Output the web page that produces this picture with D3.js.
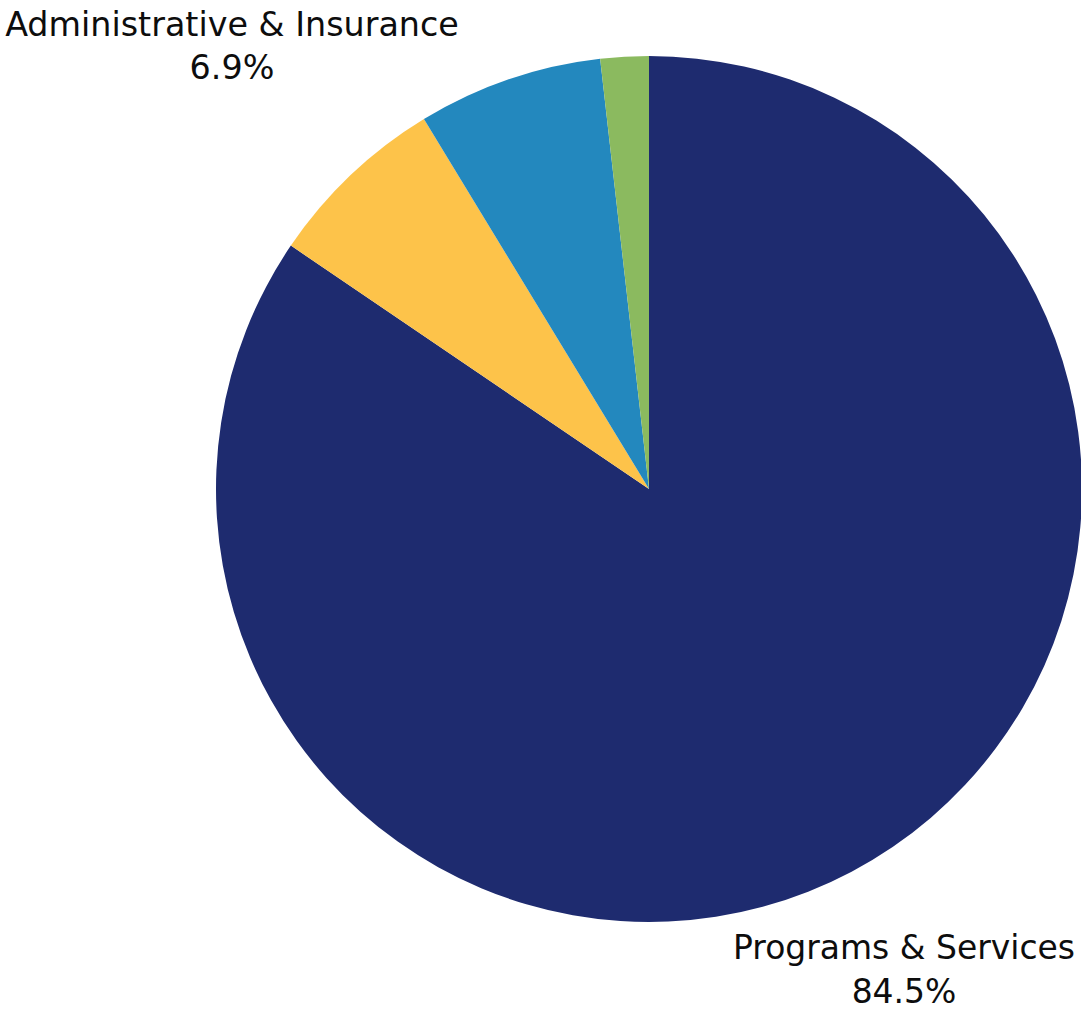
<!DOCTYPE html>
<html><head><meta charset="utf-8">
<script src="https://cdn.jsdelivr.net/npm/d3@7"></script>
<style>html,body{margin:0;padding:0;background:#fff;}svg{display:block;}</style>
</head><body>
<svg id="chart" width="1081" height="1012"></svg>
<script>
const categories = ["Programs & Services", "Fundraising", "Administrative & Insurance", "Other"];
const values = [84.5, 6.8, 6.9, 1.8];
const colors = ["#1e2b6f", "#fdc34a", "#2388be", "#8bba5f"];
const shownLabels = ["Programs & Services", "Administrative & Insurance"];

const svg = d3.select("#chart");
const cx = 649, cy = 489, r = 433;
const pie = d3.pie().sort(null).value(d => d.v);
const data = categories.map((c, i) => ({c, v: values[i], col: colors[i]}));
const arcs = pie(data);
const arc = d3.arc().innerRadius(0).outerRadius(r);
const g = svg.append("g").attr("transform", `translate(${cx},${cy})`);
g.selectAll("path").data(arcs).join("path")
  .attr("d", arc).attr("fill", d => d.data.col);

const labelPos = {
  "Programs & Services": {x: 904, y1: 959, y2: 1003, w: 342},
  "Administrative & Insurance": {x: 232, y1: 36, y2: 79, w: 454}
};
const font = "'DejaVu Sans', sans-serif";
arcs.filter(d => shownLabels.includes(d.data.c)).forEach(d => {
  const p = labelPos[d.data.c];
  const t1 = svg.append("text").attr("x", p.x).attr("y", p.y1)
    .attr("text-anchor", "middle").attr("font-family", font).attr("font-size", 30)
    .attr("fill", "#0d0d0d").text(d.data.c);
  const len = t1.node().getComputedTextLength();
  const fs = 30 * p.w / len;
  t1.attr("font-size", fs);
  svg.append("text").attr("x", p.x).attr("y", p.y2)
    .attr("text-anchor", "middle").attr("font-family", font).attr("font-size", fs)
    .attr("fill", "#0d0d0d").text(d3.format(".1f")(d.data.v) + "%");
});
</script>
</body></html>
